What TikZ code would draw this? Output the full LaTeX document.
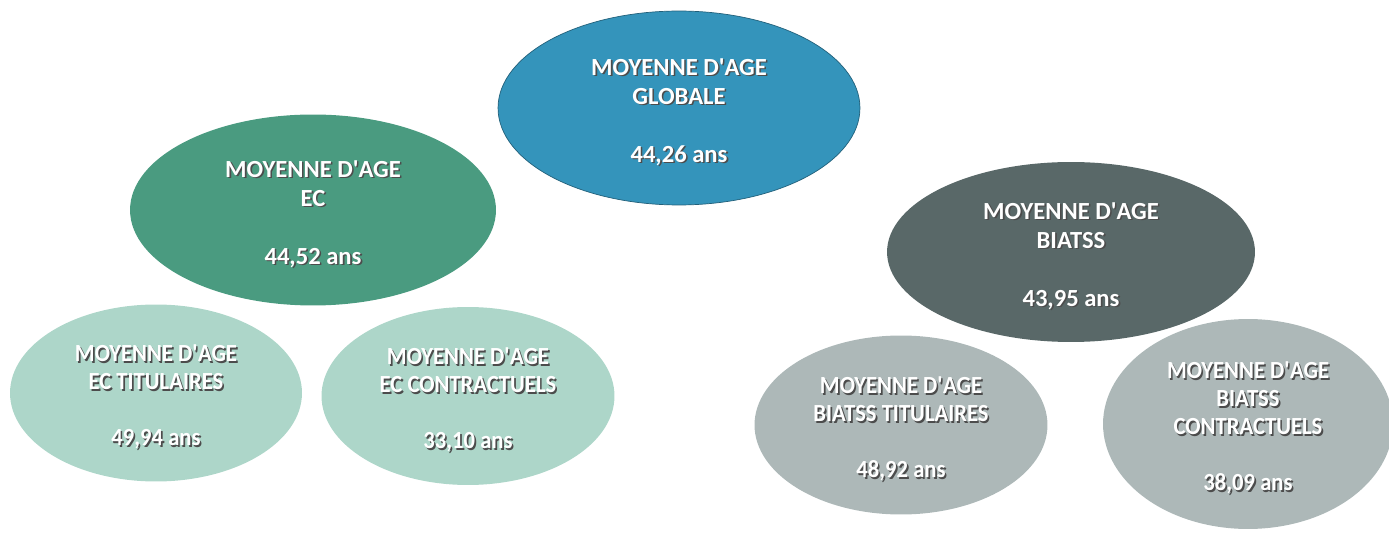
\documentclass[tikz,border=0pt]{standalone}
\usepackage{fontspec}
\setmainfont{Carlito}
\newfontfamily\etroit[FakeStretch=0.92]{Carlito}
\usetikzlibrary{shapes.geometric}
\definecolor{bleu}{RGB}{52,148,187}
\definecolor{vert}{RGB}{74,155,128}
\definecolor{ardoise}{RGB}{89,104,104}
\definecolor{vertclair}{RGB}{173,214,201}
\definecolor{grisclair}{RGB}{173,184,184}
% texte blanc avec ombre portee
\newcommand\ombre[1]{\makebox[0pt][l]{\raisebox{-0.9pt}{\kern0.9pt\textcolor{black!70}{#1}}}#1}
\newcommand\mda{\rule{0pt}{15pt}\ombre{MOYENNE D\textquotesingle AGE}}
\tikzset{
  bulle/.style={ellipse,fill=#1,inner sep=0pt,text=white,align=center,
    font=\bfseries\fontsize{14}{16.5}\selectfont},
  bulle/.default=bleu,
  petite/.style={ellipse,fill=#1,inner sep=0pt,text=white,align=center,
    font=\etroit\bfseries\fontsize{14}{16}\selectfont},
  petite/.default=vertclair,
}
\begin{document}
\begin{tikzpicture}[x=0.02cm,y=-0.02cm]
  \useasboundingbox (0,0) rectangle (1389,533);
  % niveau inferieur
  \node[petite=vertclair,minimum width=5.84cm,minimum height=3.54cm] (ectit) at (156,393)
    {\mda\\\ombre{EC TITULAIRES}\\[16pt]\ombre{49,94 ans}};
  \node[petite=vertclair,minimum width=5.86cm,minimum height=3.56cm] (eccon) at (468,396)
    {\mda\\\ombre{EC CONTRACTUELS}\\[16pt]\ombre{33,10 ans}};
  \node[petite=grisclair,minimum width=5.86cm,minimum height=3.58cm] (bitit) at (901,425)
    {\mda\\\ombre{BIATSS TITULAIRES}\\[16pt]\ombre{48,92 ans}};
  \node[petite=grisclair,minimum width=5.8cm,minimum height=4.2cm] (bicon) at (1248,424)
    {\mda\\\ombre{BIATSS}\\\ombre{CONTRACTUELS}\\[16pt]\ombre{38,09 ans}};
  % niveau superieur
  \node[bulle=vert,minimum width=7.32cm,minimum height=3.82cm] (ec) at (313,210)
    {\mda\\\ombre{EC}\\[16.5pt]\ombre{44,52 ans}};
  \node[bulle=ardoise,minimum width=7.36cm,minimum height=3.6cm] (biatss) at (1071,252)
    {\mda\\\ombre{BIATSS}\\[16.5pt]\ombre{43,95 ans}};
  \node[bulle=bleu,draw=bleu!65!black,minimum width=7.24cm,minimum height=3.88cm] (glob) at (679,108)
    {\mda\\\ombre{GLOBALE}\\[16.5pt]\ombre{44,26 ans}};
\end{tikzpicture}
\end{document}
